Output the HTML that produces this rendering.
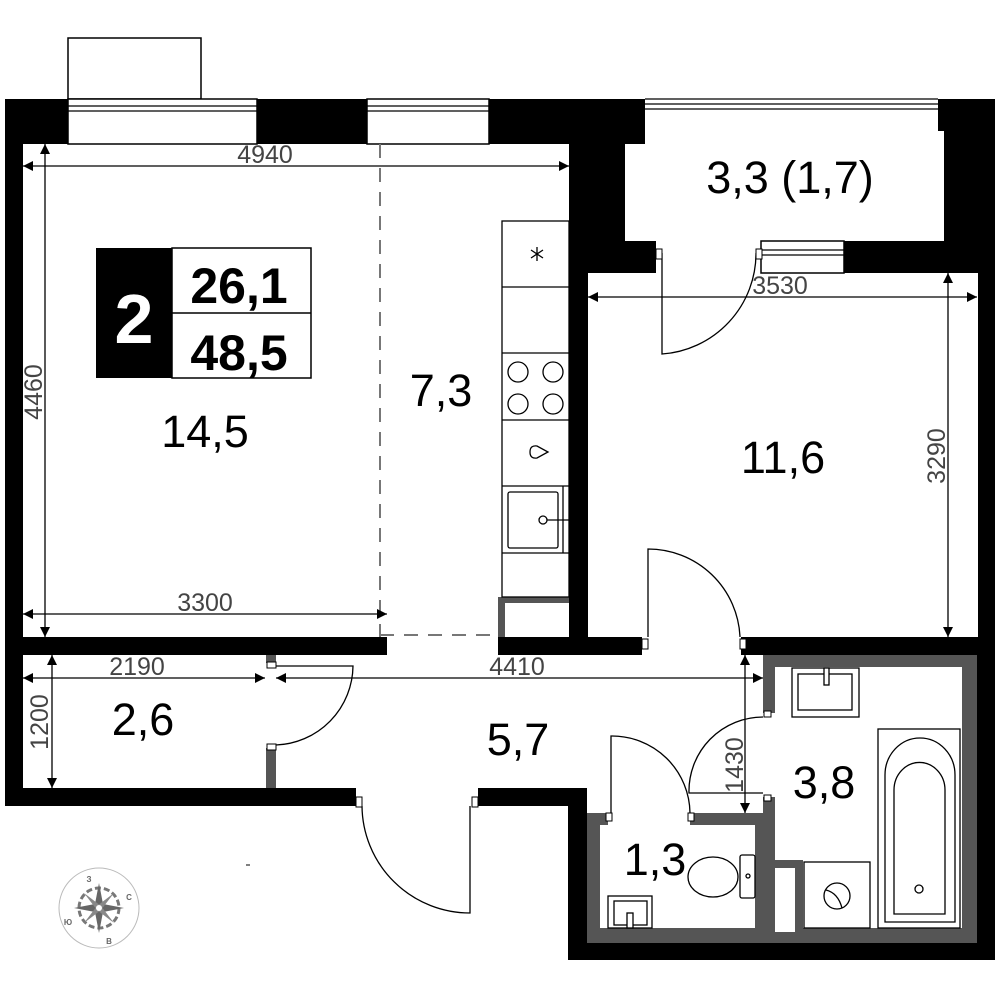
<!DOCTYPE html>
<html><head><meta charset="utf-8"><style>body{margin:0;background:#fff}svg{display:block}text{font-family:"Liberation Sans",sans-serif}</style></head><body>
<svg width="1000" height="1000" viewBox="0 0 1000 1000" xmlns="http://www.w3.org/2000/svg">
<defs>
<marker id="a" viewBox="0 0 10 10" refX="10" refY="5" markerWidth="18" markerHeight="10" markerUnits="userSpaceOnUse" orient="auto-start-reverse"><path d="M0,0L10,5L0,10z" fill="#000"/></marker>
</defs>
<g fill="#000">
<rect x="5" y="99" width="18" height="707"/>
<rect x="5" y="99" width="63" height="45"/>
<rect x="257" y="99" width="110" height="45"/>
<rect x="489" y="99" width="156" height="45"/>
<rect x="569" y="99" width="56" height="142"/>
<rect x="569" y="241" width="87" height="32"/>
<rect x="569" y="241" width="19" height="396"/>
<rect x="938" y="99" width="57" height="32"/>
<rect x="944" y="99" width="51" height="174"/>
<rect x="844" y="241" width="151" height="32"/>
<rect x="978" y="241" width="17" height="414"/>
<rect x="5" y="637" width="382" height="18"/>
<rect x="498" y="637" width="144" height="18"/>
<rect x="741" y="637" width="254" height="18"/>
<rect x="5" y="788" width="351" height="18"/>
<rect x="478" y="788" width="109" height="18"/>
<rect x="568" y="788" width="19" height="172"/>
<rect x="568" y="943" width="427" height="17"/>
<rect x="977" y="637" width="18" height="323"/>
</g>
<g fill="#555">
<rect x="763" y="655" width="214" height="12"/>
<rect x="962" y="655" width="15" height="288"/>
<rect x="587" y="928" width="390" height="15"/>
<rect x="763" y="655" width="12" height="58"/>
<rect x="763" y="797" width="12" height="146"/>
<rect x="587" y="813" width="13" height="130"/>
<rect x="587" y="813" width="21" height="12"/>
<rect x="690" y="813" width="85" height="12"/>
<rect x="755" y="813" width="20" height="130"/>
<rect x="775" y="860" width="28" height="83"/>
<rect x="266" y="655" width="10" height="8"/>
<rect x="266" y="748" width="10" height="40"/>
<rect x="498" y="597" width="7" height="40"/>
<rect x="498" y="597" width="71" height="6"/>
</g>
<rect x="775" y="868" width="20" height="64" fill="#fff"/>
<g fill="#fff" stroke="#000" stroke-width="1.5">
<rect x="68" y="38" width="133" height="61"/>
<rect x="68" y="99" width="189" height="45"/>
<rect x="367" y="99" width="122" height="45"/>
<rect x="761" y="241" width="83" height="32"/>
</g>
<g stroke="#000" stroke-width="1.2" fill="none">
<line x1="68" y1="106" x2="257" y2="106"/><line x1="68" y1="111" x2="257" y2="111"/>
<line x1="367" y1="106" x2="489" y2="106"/><line x1="367" y1="111" x2="489" y2="111"/>
<line x1="645" y1="99" x2="938" y2="99"/><line x1="645" y1="104" x2="938" y2="104"/><line x1="645" y1="109" x2="938" y2="109"/>
<line x1="761" y1="250" x2="844" y2="250"/><line x1="761" y1="255" x2="844" y2="255"/>
</g>
<g stroke="#777" stroke-width="2" stroke-dasharray="14,10" fill="none">
<line x1="380" y1="144" x2="380" y2="637"/><line x1="380" y1="635" x2="498" y2="635"/>
</g>
<g stroke="#000" stroke-width="1.3" fill="none">
<rect x="502" y="221" width="67" height="376"/>
<line x1="502" y1="287" x2="569" y2="287"/><line x1="502" y1="353" x2="569" y2="353"/>
<line x1="502" y1="420" x2="569" y2="420"/><line x1="502" y1="486" x2="569" y2="486"/><line x1="502" y1="553" x2="569" y2="553"/>
<line x1="563" y1="486" x2="563" y2="553"/>
<circle cx="518" cy="372" r="10"/><circle cx="553" cy="372" r="10"/><circle cx="518" cy="404" r="10"/><circle cx="553" cy="404" r="10"/>
<path d="M530,452 Q530,445 537,446 L548,452 L537,458 Q530,459 530,452z"/>
<rect x="508" y="492" width="50" height="56" rx="2"/>
<circle cx="543" cy="520" r="4"/><line x1="547" y1="520" x2="569" y2="520"/>
<path d="M537,247 V261 M531,250 L543,258 M543,250 L531,258"/>
</g>
<g stroke="#000" stroke-width="1.3" fill="none">
<path d="M662,253 L662,354 A101,101 0 0 0 756,253"/>
<path d="M648,637 L648,549 A92,92 0 0 1 740,637"/>
<path d="M276,666 L353,666 A80,80 0 0 1 276,745"/>
<path d="M362,806 A108,108 0 0 0 470,913 L470,806"/>
<path d="M763,793 L689,793 A74,74 0 0 1 763,717"/>
<path d="M611,813 L611,736 A78,78 0 0 1 690,813"/>
</g>
<g fill="#fff" stroke="#000" stroke-width="1">
<rect x="656" y="249" width="6" height="10"/><rect x="756" y="249" width="6" height="10"/>
<rect x="642" y="639" width="6" height="10"/><rect x="740" y="639" width="6" height="10"/>
<rect x="267" y="662" width="9" height="6"/><rect x="267" y="744" width="9" height="6"/>
<rect x="356" y="797" width="6" height="10"/><rect x="472" y="797" width="6" height="10"/>
<rect x="764" y="711" width="7" height="6"/><rect x="764" y="795" width="7" height="6"/>
<rect x="606" y="813" width="6" height="8"/><rect x="688" y="813" width="6" height="8"/>
</g>
<g stroke="#000" stroke-width="1.3" fill="#fff">
<rect x="792" y="668" width="67" height="49"/>
<rect x="798" y="674" width="54" height="36" fill="none"/>
<rect x="824" y="668" width="5" height="17"/>
<rect x="878" y="729" width="82" height="199"/>
<path d="M885,922 L885,775 A35,37 0 0 1 955,775 L955,922z" fill="none"/>
<path d="M894,914 L894,790 A25,27 0 0 1 945,790 L945,914z" fill="none"/>
<circle cx="919" cy="889" r="4"/>
<rect x="804" y="862" width="66" height="66"/>
<circle cx="837" cy="896" r="13" fill="none"/>
<path d="M826,890 Q838,893 842,908" fill="none"/>
<ellipse cx="713" cy="877" rx="25" ry="20"/>
<rect x="740" y="855" width="15" height="43" rx="2"/>
<circle cx="748" cy="876" r="2"/>
<rect x="608" y="896" width="44" height="32"/>
<rect x="614" y="901" width="33" height="24" fill="none"/>
<rect x="627" y="913" width="6" height="15"/>
</g>
<g stroke="#000" stroke-width="1.3">
<line x1="23" y1="166" x2="569" y2="166" marker-start="url(#a)" marker-end="url(#a)"/>
<line x1="45" y1="144" x2="45" y2="637" marker-start="url(#a)" marker-end="url(#a)"/>
<line x1="23" y1="614" x2="387" y2="614" marker-start="url(#a)" marker-end="url(#a)"/>
<line x1="588" y1="297" x2="977" y2="297" marker-start="url(#a)" marker-end="url(#a)"/>
<line x1="948" y1="273" x2="948" y2="637" marker-start="url(#a)" marker-end="url(#a)"/>
<line x1="23" y1="678" x2="265" y2="678" marker-start="url(#a)" marker-end="url(#a)"/>
<line x1="276" y1="678" x2="763" y2="678" marker-start="url(#a)" marker-end="url(#a)"/>
<line x1="52" y1="655" x2="52" y2="788" marker-start="url(#a)" marker-end="url(#a)"/>
<line x1="745" y1="655" x2="745" y2="813" marker-start="url(#a)" marker-end="url(#a)"/>
</g>
<g fill="#444" font-size="25">
<text x="265" y="163" text-anchor="middle">4940</text>
<text x="205" y="611" text-anchor="middle">3300</text>
<text x="780" y="294" text-anchor="middle">3530</text>
<text x="137" y="675" text-anchor="middle">2190</text>
<text x="517" y="675" text-anchor="middle">4410</text>
<text transform="translate(42,392) rotate(-90)" text-anchor="middle">4460</text>
<text transform="translate(945,456) rotate(-90)" text-anchor="middle">3290</text>
<text transform="translate(48,722) rotate(-90)" text-anchor="middle">1200</text>
<text transform="translate(743,765) rotate(-90)" text-anchor="middle">1430</text>
</g>
<g font-size="45" fill="#000" text-anchor="middle">
<text x="205" y="447">14,5</text>
<text x="441" y="406">7,3</text>
<text x="783" y="473">11,6</text>
<text x="790" y="193">3,3 (1,7)</text>
<text x="143" y="735">2,6</text>
<text x="518" y="755">5,7</text>
<text x="824" y="798">3,8</text>
<text x="655" y="875">1,3</text>
</g>
<rect x="96" y="248" width="76" height="130" fill="#000"/>
<rect x="172" y="248" width="139" height="130" fill="#fff" stroke="#000" stroke-width="1.5"/>
<line x1="172" y1="313" x2="311" y2="313" stroke="#000" stroke-width="1.5"/>
<text x="134" y="343" font-size="70" font-weight="bold" fill="#fff" text-anchor="middle">2</text>
<text x="239" y="303" font-size="50" font-weight="bold" text-anchor="middle">26,1</text>
<text x="239" y="370" font-size="50" font-weight="bold" text-anchor="middle">48,5</text>
<line x1="246" y1="865" x2="250" y2="865" stroke="#000"/>
<g>
<ellipse cx="99" cy="908" rx="40" ry="40" fill="none" stroke="#bbb" stroke-width="1"/>
<circle cx="99" cy="908" r="20" fill="none" stroke="#777" stroke-width="3" stroke-dasharray="6,3"/>
<path d="M99,883 L103,904 L124,908 L103,912 L99,933 L95,912 L74,908 L95,904z" fill="#666"/>
<path d="M84,893 L101,906 L114,923 L97,910z M114,893 L101,910 L84,923 L97,906z" fill="#888"/>
<circle cx="99" cy="908" r="3" fill="#fff"/>
<g font-size="8" fill="#666" font-weight="bold" text-anchor="middle">
<text x="89" y="882">З</text><text x="129" y="900">С</text><text x="68" y="925">Ю</text><text x="109" y="944">В</text>
</g>
</g>
</svg>
</body></html>
